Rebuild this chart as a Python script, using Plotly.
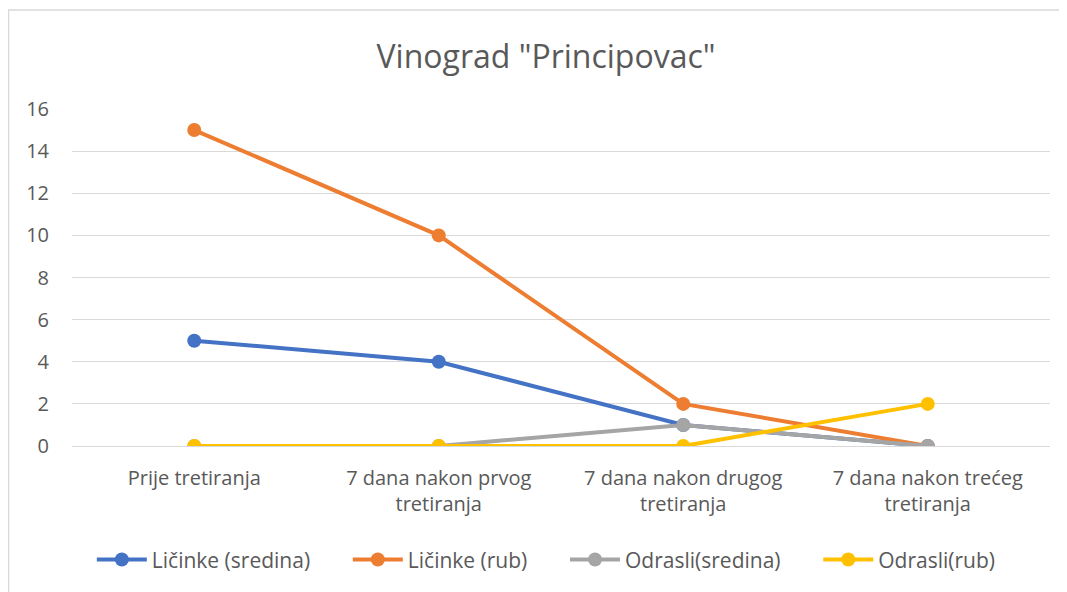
import plotly.graph_objects as go

categories = ["Prije tretiranja", "7 dana nakon prvog<br>tretiranja",
              "7 dana nakon drugog<br>tretiranja", "7 dana nakon trećeg<br>tretiranja"]
licinke_sredina = [5, 4, 1, 0]
licinke_rub = [15, 10, 2, 0]
odrasli_sredina = [0, 0, 1, 0]
odrasli_rub = [0, 0, 0, 2]

series = [
    ("Ličinke (sredina)", licinke_sredina, "#4472C4"),
    ("Ličinke (rub)", licinke_rub, "#ED7D31"),
    ("Odrasli(sredina)", odrasli_sredina, "#A5A5A5"),
    ("Odrasli(rub)", odrasli_rub, "#FFC000"),
]

FONT = "Open Sans, Arial"
PAD = "\u00a0" * 6
fig = go.Figure()
for i, (name, vals, col) in enumerate(series):
    fig.add_trace(go.Scatter(
        x=categories, y=vals, name=name + (PAD if i < len(series) - 1 else ""),
        mode="lines+markers",
        line=dict(color=col, width=4), marker=dict(color=col, size=14),
    ))

fig.update_layout(
    width=1067, height=592,
    paper_bgcolor="white", plot_bgcolor="white",
    margin=dict(l=64, r=25, t=101, b=154, autoexpand=False),
    title=dict(text='Vinograd "Principovac"', x=(546 - 8) / 1067, xanchor="center",
               y=1 - 49 / 592, yanchor="middle",
               font=dict(family=FONT, size=32, color="#595959")),
    font=dict(family=FONT, color="#595959", size=20),
    showlegend=True,
    legend=dict(orientation="h", x=0.485, xanchor="center", y=-0.338, yanchor="middle",
                font=dict(size=21, color="#595959"), itemwidth=50, traceorder="normal"),
    shapes=[dict(type="rect", xref="paper", yref="paper", x0=-0.0649, x1=1.2,
                 y0=-0.8, y1=1.2938, line=dict(color="#D9D9D9", width=1.5))],
)
fig.update_xaxes(range=[-0.5, 3.5], showgrid=False, showline=False, zeroline=False, ticks="",
                 tickfont=dict(size=20, color="#595959"), ticklabelstandoff=18, automargin=False)
fig.update_yaxes(range=[0, 16], dtick=2, showgrid=True, gridcolor="#D9D9D9", gridwidth=1,
                 zeroline=True, zerolinecolor="#D9D9D9", zerolinewidth=1, showline=False,
                 ticks="", tickfont=dict(size=20, color="#595959"), ticklabelstandoff=22,
                 automargin=False)
fig.write_html("out.html")
